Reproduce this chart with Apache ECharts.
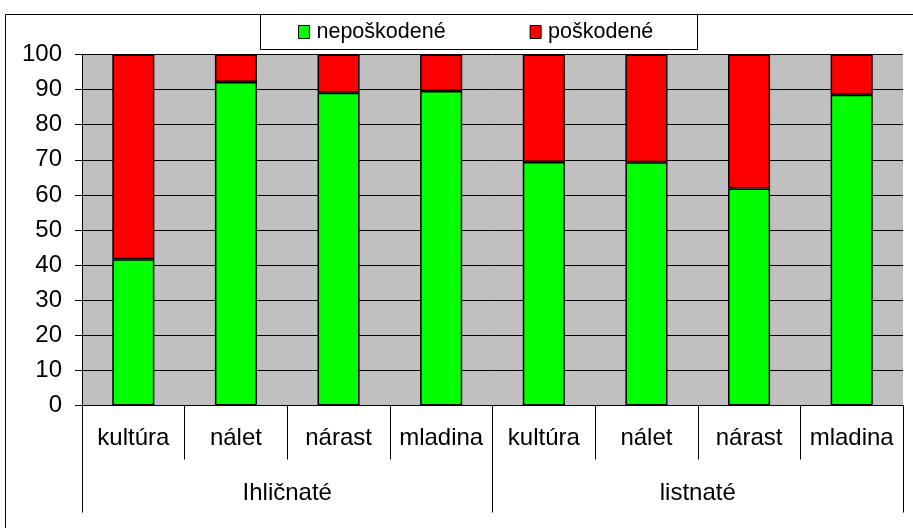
<!DOCTYPE html>
<html>
<head>
<meta charset="utf-8">
<script src="https://cdn.jsdelivr.net/npm/echarts@6/dist/echarts.min.js"></script>
<style>
html,body{margin:0;padding:0;background:#fff;}
#chart{width:913px;height:528px;}
</style>
</head>
<body>
<div id="chart"></div>
<script>
var categories = ['kultúra', 'nálet', 'nárast', 'mladina', 'kultúra', 'nálet', 'nárast', 'mladina'];
var groups = ['Ihličnaté', 'listnaté'];
var undamaged = [41.7, 92.2, 89.1, 89.6, 69.4, 69.3, 61.8, 88.5];
var damaged = [58.3, 7.8, 10.9, 10.4, 30.6, 30.7, 38.2, 11.5];
var seriesNames = ['nepoškodené', 'poškodené'];
var yTicks = [0, 10, 20, 30, 40, 50, 60, 70, 80, 90, 100];

var font = '"Liberation Sans", Arial, sans-serif';
var fs = 24;
var chart = echarts.init(document.getElementById('chart'), null, {renderer: 'canvas'});
chart.setOption({
  animation: false,
  backgroundColor: '#ffffff',
  textStyle: {fontFamily: font},
  graphic: [
    {type: 'rect', z: -10, silent: true, shape: {x: 5.5, y: 14.5, width: 1000, height: 1000},
     style: {fill: '#ffffff', stroke: '#000000', lineWidth: 1}},
    {type: 'rect', z: -5, silent: true, shape: {x: 260.5, y: 14.5, width: 437, height: 35},
     style: {fill: '#ffffff', stroke: '#000000', lineWidth: 1}}
  ],
  legend: {
    left: 298, top: 21, padding: 0,
    itemGap: 84, itemWidth: 11, itemHeight: 13,
    icon: 'rect',
    itemStyle: {borderColor: '#000', borderWidth: 1},
    textStyle: {fontSize: 21.5, color: '#000', fontFamily: font, padding: [0, 0, 0, 2]},
    data: seriesNames
  },
  grid: {
    left: 82, right: 10, top: 54.5, bottom: 122.5,
    show: true, backgroundColor: '#c0c0c0', borderWidth: 0
  },
  yAxis: {
    type: 'value', min: yTicks[0], max: yTicks[yTicks.length - 1], interval: 10,
    axisLine: {show: true, lineStyle: {color: '#000', width: 1}},
    axisTick: {show: true, length: 7, lineStyle: {color: '#000'}},
    axisLabel: {fontSize: fs, color: '#000', margin: 20, fontFamily: font},
    splitLine: {show: true, lineStyle: {color: '#000', width: 1}}
  },
  xAxis: [
    {
      type: 'category', data: categories, position: 'bottom',
      axisLine: {show: true, lineStyle: {color: '#000', width: 1}},
      axisTick: {show: true, alignWithLabel: false, length: 54, lineStyle: {color: '#000'}},
      axisLabel: {fontSize: fs, color: '#000', margin: 21, interval: 0, fontFamily: font},
      splitLine: {show: false}
    },
    {
      type: 'category', data: groups, position: 'bottom',
      axisLine: {show: false},
      axisTick: {show: true, alignWithLabel: false, length: 107, lineStyle: {color: '#000'}},
      axisLabel: {fontSize: fs, color: '#000', margin: 76, interval: 0, fontFamily: font},
      splitLine: {show: false}
    }
  ],
  series: [
    {
      name: seriesNames[0], type: 'bar', stack: 'total', barWidth: '41%', xAxisIndex: 0,
      itemStyle: {color: '#00ff00', borderColor: '#000', borderWidth: 1.5},
      data: undamaged
    },
    {
      name: seriesNames[1], type: 'bar', stack: 'total', barWidth: '41%', xAxisIndex: 0,
      itemStyle: {color: '#ff0000', borderColor: '#000', borderWidth: 1.5},
      data: damaged
    }
  ]
});
</script>
</body>
</html>
